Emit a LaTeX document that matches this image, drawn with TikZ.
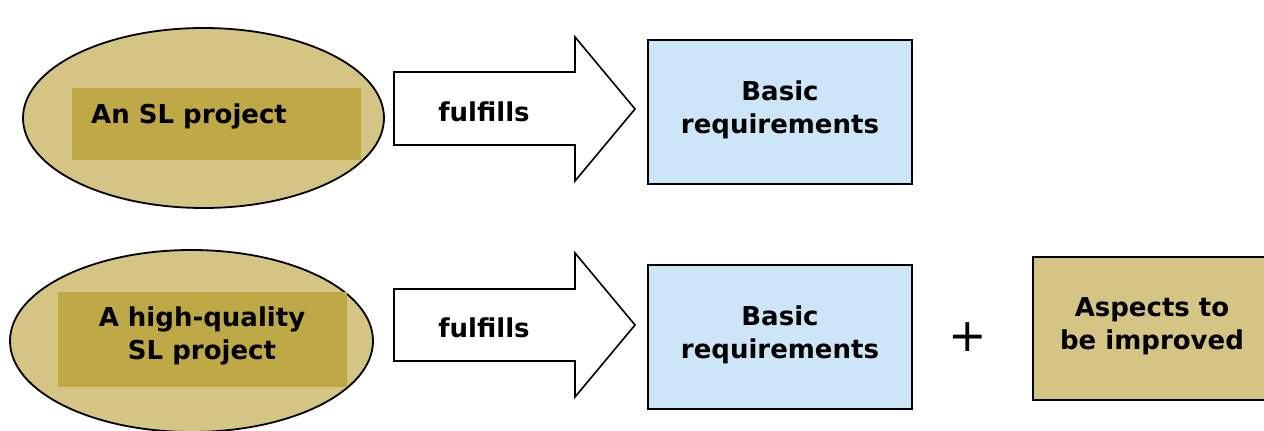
\documentclass[tikz,border=0pt]{standalone}
\usepackage{fontspec}
\setmainfont{DejaVu Sans}
\usetikzlibrary{shapes.geometric}
\definecolor{tan}{HTML}{D4C584}
\definecolor{olive}{HTML}{BFA846}
\definecolor{lblue}{HTML}{CCE5F7}
\tikzset{
  lbl/.style={font=\fontsize{26}{33}\selectfont\bfseries, align=center, inner sep=0pt},
  ell/.style={ellipse, draw=black, line width=1.8pt, fill=tan, inner sep=0pt},
  inner/.style={fill=olive, draw=none, inner sep=0pt},
  reqbox/.style={draw=black, line width=1.8pt, fill=lblue, inner sep=0pt},
  aspbox/.style={draw=black, line width=1.8pt, fill=tan, inner sep=0pt},
  bigarrow/.style={draw=black, line width=1.6pt, fill=white, line join=miter},
}
\begin{document}
\begin{tikzpicture}[x=1pt, y=-1pt]
\useasboundingbox (0,0) rectangle (1264,431);
% row 1
\node[ell, minimum width=361pt, minimum height=180pt] (e1) at (203.5,118) {};
\node[inner, minimum width=289pt, minimum height=72pt] (r1) at (216.5,124) {};
\node[lbl, anchor=west] (t1) at (91,116) {An SL project};
\draw[bigarrow] (394,72) -- (575,72) -- (575,37) -- (635,109) -- (575,181) -- (575,145) -- (394,145) -- cycle;
\node[lbl] (f1) at (484,112) {fulfills};
\node[reqbox, minimum width=264pt, minimum height=144pt] (b1) at (780,112) {};
\node[lbl] (bt1) at (780,110) {Basic\\requirements};
% row 2
\node[ell, minimum width=363pt, minimum height=182pt] (e2) at (191.5,341) {};
\node[inner, minimum width=289pt, minimum height=95pt] (r2) at (202.5,339.5) {};
\node[lbl] (t2) at (202,336) {A high-quality\\SL project};
\draw[bigarrow] (394,289) -- (575,289) -- (575,253) -- (635,325) -- (575,397) -- (575,361) -- (394,361) -- cycle;
\node[lbl] (f2) at (484,328) {fulfills};
\node[reqbox, minimum width=264pt, minimum height=144pt] (b2) at (780,337) {};
\node[lbl] (bt2) at (780,335) {Basic\\requirements};
\node[font=\fontsize{46}{46}\selectfont, inner sep=0pt] (plus) at (968,337) {+};
\node[aspbox, minimum width=232pt, minimum height=143pt] (a2) at (1149,328.5) {};
\node[lbl] (at2) at (1152,326) {Aspects to\\be improved};
\end{tikzpicture}
\end{document}
